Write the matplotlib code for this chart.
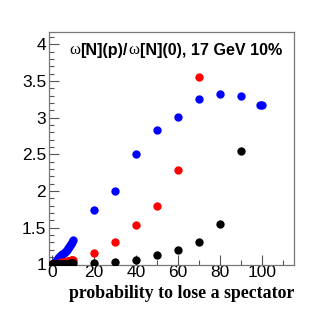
import matplotlib
matplotlib.use("Agg")
import matplotlib.pyplot as plt
from matplotlib.ticker import MultipleLocator

p_low = [0, 0.5, 1, 1.5, 2, 2.5, 3, 3.5, 4, 4.5, 5, 5.5, 6, 6.5, 7, 7.5, 8, 8.5, 9, 9.5, 10]
p_high = [20, 30, 40, 50, 60, 70, 80, 90, 99, 100]

blue_low = [1.0, 1.01, 1.02, 1.035, 1.05, 1.065, 1.08, 1.095, 1.11, 1.125, 1.14, 1.155, 1.17,
            1.185, 1.2, 1.22, 1.24, 1.26, 1.28, 1.305, 1.33]
blue_high = [1.74, 2.0, 2.51, 2.83, 3.01, 3.25, 3.32, 3.30, 3.18, 3.18]

red_low = [1.0, 1.0, 1.0, 1.005, 1.005, 1.01, 1.01, 1.015, 1.02, 1.02, 1.025, 1.03, 1.03,
           1.035, 1.04, 1.04, 1.045, 1.05, 1.055, 1.06, 1.065]
red_p = [20, 30, 40, 50, 60, 70]
red_high = [1.16, 1.30, 1.53, 1.80, 2.29, 3.56]

black_low = [1.0, 1.0, 1.0, 1.0, 1.0, 1.0, 1.0, 1.0, 1.005, 1.005, 1.005, 1.005, 1.01,
             1.01, 1.01, 1.01, 1.01, 1.015, 1.015, 1.015, 1.02]
black_p = [20, 30, 40, 50, 60, 70, 80, 90]
black_high = [1.02, 1.03, 1.055, 1.13, 1.195, 1.31, 1.555, 2.54]

x_ticks = [0, 20, 40, 60, 80, 100]
x_ticklabels = ["0", "20", "40", "60", "80", "100"]
y_ticks = [1, 1.5, 2, 2.5, 3, 3.5, 4]
y_ticklabels = ["1", "1.5", "2", "2.5", "3", "3.5", "4"]

title_parts = ["\u03c9", "[N](p)/", "\u03c9", "[N](0), 17 GeV 10%"]
xlabel = "probability to lose a spectator"

fig = plt.figure(figsize=(3.27, 3.12), dpi=100)
ax = fig.add_axes([0.1498, 0.1506, 0.749, 0.7468])

ms = 36
ax.scatter(p_low, blue_low, s=ms, color="#0000ff", linewidths=0, zorder=3)
ax.scatter(p_high, blue_high, s=ms, color="#0000ff", linewidths=0, zorder=3)
ax.scatter(p_low, red_low, s=ms, color="#ff0000", linewidths=0, zorder=4)
ax.scatter(red_p, red_high, s=ms, color="#ff0000", linewidths=0, zorder=4)
ax.scatter(p_low, black_low, s=ms, color="#000000", linewidths=0, zorder=5)
ax.scatter(black_p, black_high, s=ms, color="#000000", linewidths=0, zorder=5)

ax.set_xlim(-1.4, 115)
ax.set_ylim(0.99, 4.17)

ax.xaxis.set_minor_locator(MultipleLocator(10))
ax.yaxis.set_minor_locator(MultipleLocator(0.1))

ax.set_yticks(y_ticks)
ax.set_yticklabels(y_ticklabels, family="Liberation Sans", fontsize=12.5)
ax.set_xticks(x_ticks)
ax.set_xticklabels(x_ticklabels, family="Liberation Sans", fontsize=12.5)

ax.tick_params(axis="both", which="both", direction="in", top=False, right=False,
               color="#555555", labelcolor="black")
ax.tick_params(axis="both", which="major", length=7, width=0.8)
ax.tick_params(axis="both", which="minor", length=3.5, width=0.8)
ax.tick_params(axis="x", pad=0)
ax.tick_params(axis="y", pad=2)

for s in ax.spines.values():
    s.set_color("#777777")
    s.set_linewidth(0.9)

# title built from pieces: omega in regular serif, rest bold sans
fs_t = 11.6
prev = None
for i, part in enumerate(title_parts):
    if part == "\u03c9":
        kw = dict(family="Liberation Serif", fontweight="normal", fontsize=fs_t + 0.5)
    else:
        kw = dict(family="Liberation Sans", fontweight="bold", fontsize=fs_t)
    if prev is None:
        prev = ax.text(0.082, 0.905, part, transform=ax.transAxes, ha="left",
                       va="baseline", **kw)
    else:
        prev = ax.annotate(part, xy=(1, 0), xycoords=prev, xytext=(0.3, 0),
                           textcoords="offset points", ha="left", va="bottom", **kw)

fig.text(0.899, 0.059, xlabel, fontsize=12.8, fontweight="bold", family="Liberation Serif",
         ha="right", va="center")

fig.savefig("out.png", dpi=100)
